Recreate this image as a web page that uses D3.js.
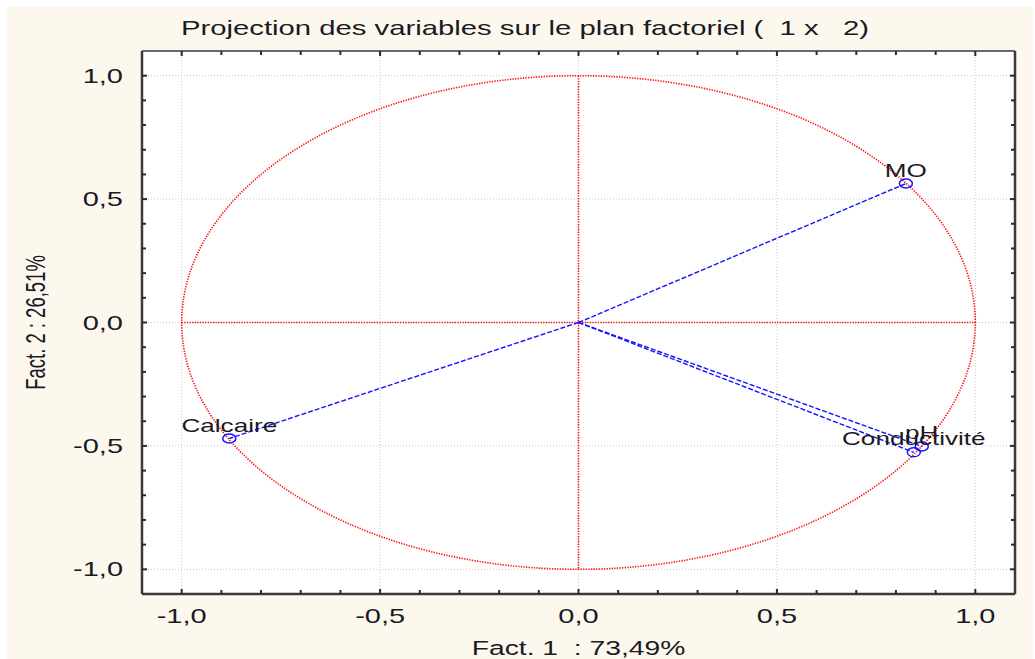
<!DOCTYPE html>
<html>
<head>
<meta charset="utf-8">
<script src="https://cdn.jsdelivr.net/npm/d3@7"></script>
<style>
  body { margin: 0; background: #fff; }
  svg { display: block; }
  text { font-family: "Liberation Sans", Arial, sans-serif; fill: #1a1a24; white-space: pre; }
</style>
</head>
<body>
<svg id="chart" width="1035" height="659"></svg>
<script>
// variables projected on the factorial plane (1 x 2)
const variables = ['MO', 'Calcaire', 'pH', 'Conductivité'];
const fact1 = [0.825, -0.880, 0.865, 0.845];
const fact2 = [0.563, -0.470, -0.502, -0.526];

const majorTicks = [-1.0, -0.5, 0.0, 0.5, 1.0];
const minorTicks = d3.range(-10, 11).map(d => d / 10);

const titleText = 'Projection des variables sur le plan factoriel (  1 x   2)';
const xTitle = 'Fact. 1  : 73,49%';
const yTitle = 'Fact. 2 : 26,51%';

const width = 1035, height = 659;
const margin = {top: 51, right: 20, bottom: 65, left: 142};
const STRETCH = 1.45; // glyphs in the reference are wider than tall

const svg = d3.select('#chart');

// cream panel
svg.append('rect')
    .attr('x', 7).attr('y', 7)
    .attr('width', width - 9).attr('height', height - 7)
    .attr('fill', '#fdf8ee');

let x = d3.scaleLinear().domain([-1.1, 1.1]).range([margin.left, width - margin.right]);
let y = d3.scaleLinear().domain([-1.1, 1.1]).range([height - margin.bottom, margin.top]);

let locale = d3.formatLocale({decimal: ',', thousands: ' ', grouping: [3], currency: ['', ''], minus: '-'});
let fmt = locale.format('.1f');

// plot background
svg.append('rect')
    .attr('x', x(-1.1)).attr('y', y(1.1))
    .attr('width', x(1.1) - x(-1.1)).attr('height', y(-1.1) - y(1.1))
    .attr('fill', '#fff');

// grid
let grid = svg.append('g').attr('stroke', '#c9c9c9').attr('stroke-width', 1).attr('stroke-dasharray', '1,2');
grid.selectAll('.gx').data(majorTicks).enter().append('line')
    .attr('x1', d => x(d)).attr('x2', d => x(d))
    .attr('y1', y(1.1)).attr('y2', y(-1.1));
grid.selectAll('.gy').data(majorTicks).enter().append('line')
    .attr('y1', d => y(d)).attr('y2', d => y(d))
    .attr('x1', x(-1.1)).attr('x2', x(1.1));

// unit circle + red axes
let red = svg.append('g').attr('stroke', '#ff0a0a').attr('stroke-width', 1.6)
    .attr('stroke-dasharray', '1.3,1.3').attr('fill', 'none');
let circle = d3.range(0, 361).map(a => [Math.cos(a * Math.PI / 180), Math.sin(a * Math.PI / 180)]);
red.append('path')
    .attr('d', d3.line().x(d => x(d[0])).y(d => y(d[1]))(circle));
red.append('line').attr('x1', x(-1)).attr('x2', x(1)).attr('y1', y(0)).attr('y2', y(0));
red.append('line').attr('x1', x(0)).attr('x2', x(0)).attr('y1', y(1)).attr('y2', y(-1));

// vectors
let pts = variables.map((v, i) => ({name: v, f1: fact1[i], f2: fact2[i]}));
svg.append('g').selectAll('line').data(pts).enter().append('line')
    .attr('x1', x(0)).attr('y1', y(0))
    .attr('x2', d => x(d.f1)).attr('y2', d => y(d.f2))
    .attr('stroke', '#1414ff').attr('stroke-width', 1.4)
    .attr('stroke-dasharray', '5,2');

svg.append('g').selectAll('ellipse').data(pts).enter().append('ellipse')
    .attr('cx', d => x(d.f1)).attr('cy', d => y(d.f2))
    .attr('rx', 6.5).attr('ry', 4.5)
    .attr('fill', 'none').attr('stroke', '#1414ff').attr('stroke-width', 1.5);

svg.append('g').selectAll('text').data(pts).enter().append('text')
    .attr('transform', d => `translate(${x(d.f1)},${y(d.f2) - 7}) scale(${STRETCH},1)`)
    .attr('text-anchor', 'middle')
    .style('font-size', '18px')
    .text(d => d.name);

// frame
let frame = svg.append('g').attr('stroke', '#3a3a3a').attr('fill', 'none');
frame.append('line').attr('x1', x(-1.1)).attr('x2', x(1.1)).attr('y1', y(1.1)).attr('y2', y(1.1)).attr('stroke-width', 1.5);
frame.append('line').attr('x1', x(-1.1)).attr('x2', x(1.1)).attr('y1', y(-1.1)).attr('y2', y(-1.1)).attr('stroke-width', 2.5);
frame.append('line').attr('x1', x(-1.1)).attr('x2', x(-1.1)).attr('y1', y(1.1)).attr('y2', y(-1.1)).attr('stroke-width', 2.5);
frame.append('line').attr('x1', x(1.1)).attr('x2', x(1.1)).attr('y1', y(1.1)).attr('y2', y(-1.1)).attr('stroke-width', 2.5);

// ticks (inside, all four sides)
let ticks = svg.append('g').attr('stroke', '#2a2a2a').attr('stroke-width', 2);
let tlen = d => majorTicks.includes(d) ? 5 : 4;
ticks.selectAll('.tb').data(minorTicks).enter().append('line')
    .attr('x1', d => x(d)).attr('x2', d => x(d))
    .attr('y1', y(-1.1)).attr('y2', d => y(-1.1) - tlen(d));
ticks.selectAll('.tt').data(minorTicks).enter().append('line')
    .attr('x1', d => x(d)).attr('x2', d => x(d))
    .attr('y1', y(1.1)).attr('y2', d => y(1.1) + tlen(d));
ticks.selectAll('.tl').data(minorTicks).enter().append('line')
    .attr('y1', d => y(d)).attr('y2', d => y(d))
    .attr('x1', x(-1.1)).attr('x2', d => x(-1.1) + tlen(d));
ticks.selectAll('.tr').data(minorTicks).enter().append('line')
    .attr('y1', d => y(d)).attr('y2', d => y(d))
    .attr('x1', x(1.1)).attr('x2', d => x(1.1) - tlen(d));

// tick labels
svg.append('g').selectAll('text').data(majorTicks).enter().append('text')
    .attr('transform', d => `translate(${x(d)},${y(-1.1) + 29}) scale(${STRETCH},1)`)
    .attr('text-anchor', 'middle')
    .style('font-size', '20px')
    .text(d => fmt(d));
svg.append('g').selectAll('text').data(majorTicks).enter().append('text')
    .attr('transform', d => `translate(${x(-1.1) - 19},${y(d) + 7}) scale(${STRETCH},1)`)
    .attr('text-anchor', 'end')
    .style('font-size', '20px')
    .text(d => fmt(d));

// titles
svg.append('text')
    .attr('transform', `translate(525,35) scale(${STRETCH},1)`)
    .attr('text-anchor', 'middle')
    .style('font-size', '20.2px')
    .text(titleText);
svg.append('text')
    .attr('transform', `translate(${x(0)},655) scale(${STRETCH},1)`)
    .attr('text-anchor', 'middle')
    .style('font-size', '19.5px')
    .text(xTitle);
svg.append('text')
    .attr('transform', `translate(45,${y(0)}) rotate(-90) scale(1,${STRETCH})`)
    .attr('text-anchor', 'middle')
    .style('font-size', '18.5px')
    .text(yTitle);
</script>
</body>
</html>
